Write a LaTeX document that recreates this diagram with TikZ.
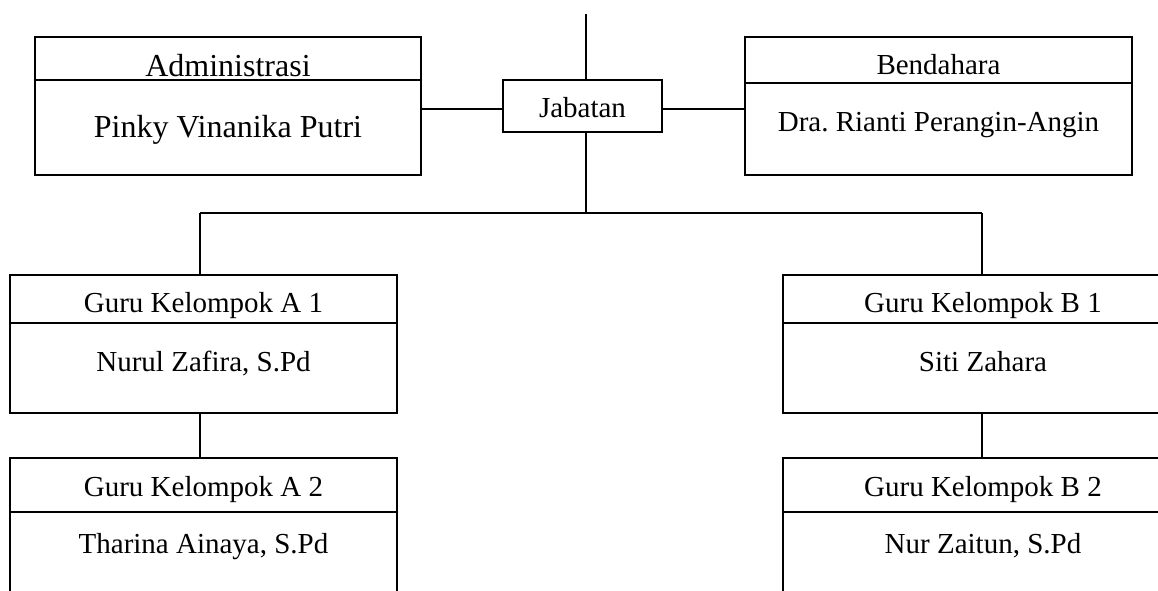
\documentclass[tikz,border=0pt]{standalone}
\usepackage{fontspec}
\setmainfont{Liberation Serif}
\usetikzlibrary{positioning}

\begin{document}
\begin{tikzpicture}[x=0.5pt,y=-0.5pt]
	\tikzstyle{box}=[rectangle, draw=black, line width=0.65pt, inner xsep=0pt, inner ysep=0pt, outer sep=0pt, font=\fontsize{14.5pt}{17pt}\selectfont]
	\tikzstyle{big}=[font=\fontsize{16pt}{19pt}\selectfont]
	\tikzstyle{connect}=[line width=0.65pt]
	\useasboundingbox (0,0) rectangle (1158,590);
	\clip (0,0) rectangle (1158,590);
	\node[box, big, anchor=north west, minimum width=193pt, text height=19.5pt, text depth=2pt] (adm) at (35,37) {Administrasi};
	\node[box, big, below=0pt of adm, minimum width=193pt, text height=28.5pt, text depth=19pt] (admname) {Pinky Vinanika Putri};
	\node[box, anchor=north west, minimum width=79.5pt, text height=18.5pt, text depth=7.5pt] (jab) at (503,80) {Jabatan};
	\node[box, anchor=north west, minimum width=193.5pt, text height=18.5pt, text depth=4.5pt] (ben) at (745,37) {Bendahara};
	\node[box, below=0pt of ben, minimum width=193.5pt, text height=24pt, text depth=22pt] (benname) {Dra.\ Rianti Perangin-Angin};
	\node[box, anchor=north west, minimum width=193.5pt, text height=18.5pt, text depth=5.5pt] (a1) at (10,275) {Guru Kelompok A 1};
	\node[box, below=0pt of a1, minimum width=193.5pt, text height=24pt, text depth=21pt] (a1name) {Nurul Zafira, S.Pd};
	\node[box, anchor=north west, minimum width=193.5pt, text height=19pt, text depth=8pt] (a2) at (10,458) {Guru Kelompok A 2};
	\node[box, below=0pt of a2, minimum width=193.5pt, text height=20.5pt, text depth=48.5pt] (a2name) {Tharina Ainaya, S.Pd};
	\node[box, anchor=north west, minimum width=200pt, text height=18.5pt, text depth=5.5pt] (b1) at (783,275) {Guru Kelompok B 1};
	\node[box, below=0pt of b1, minimum width=200pt, text height=24pt, text depth=21pt] (b1name) {Siti Zahara};
	\node[box, anchor=north west, minimum width=200pt, text height=19pt, text depth=8pt] (b2) at (783,458) {Guru Kelompok B 2};
	\node[box, below=0pt of b2, minimum width=200pt, text height=20.5pt, text depth=48.5pt] (b2name) {Nur Zaitun, S.Pd};
	\coordinate (top) at (586,14);
	\coordinate (busl) at (200,213);
	\coordinate (busr) at (982,213);
	\draw[connect] (top) -- (top |- jab.north);
	\draw[connect] (top |- jab.south) -- (top |- busl);
	\draw[connect] (busl) -- (busr);
	\draw[connect] (busl) -- (busl |- a1.north);
	\draw[connect] (busr) -- (busr |- b1.north);
	\draw[connect] (busl |- a1name.south) -- (busl |- a2.north);
	\draw[connect] (busr |- b1name.south) -- (busr |- b2.north);
	\draw[connect] ([yshift=-1.5pt]jab.west) -- ([yshift=-1.5pt]jab.west -| admname.east);
	\draw[connect] ([yshift=-1.5pt]jab.east) -- ([yshift=-1.5pt]jab.east -| benname.west);
\end{tikzpicture}
\end{document}
